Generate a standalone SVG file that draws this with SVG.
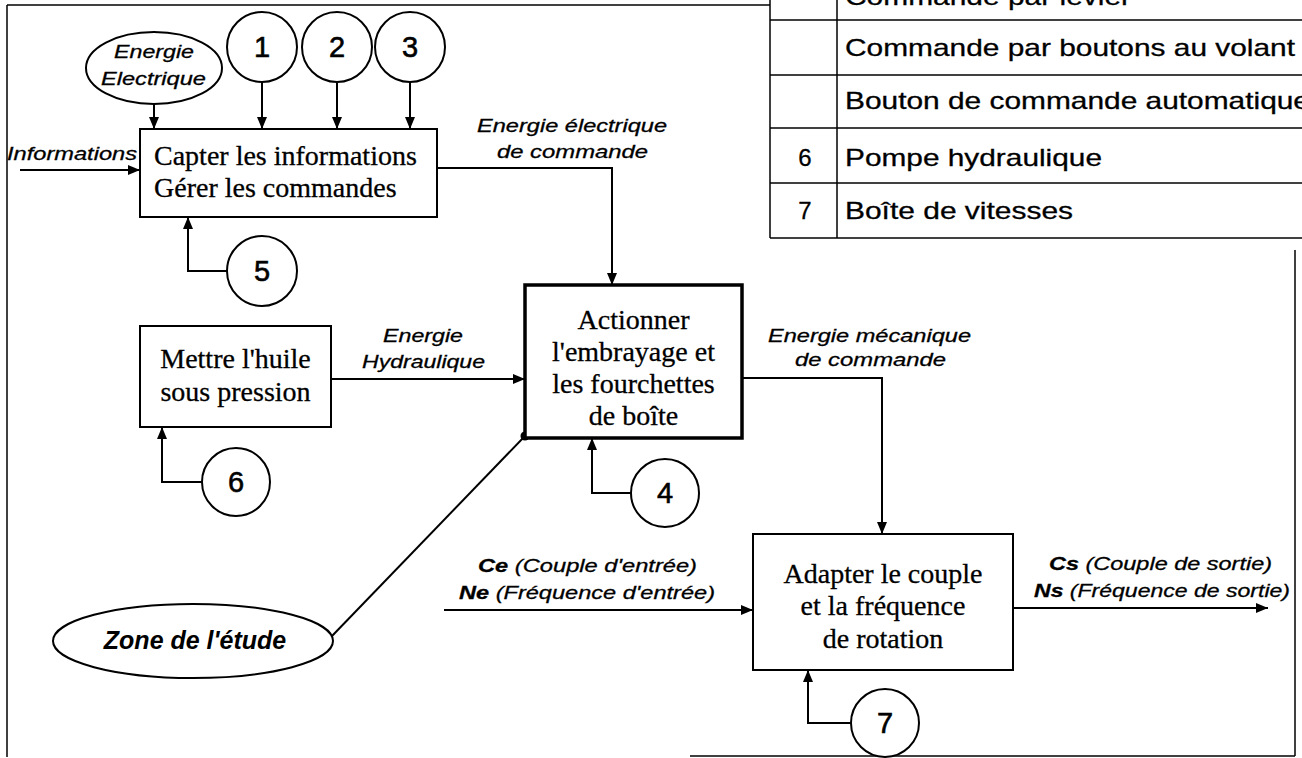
<svg xmlns="http://www.w3.org/2000/svg" width="1302" height="758" viewBox="0 0 1302 758">
<style>
.ln{fill:none;stroke:#000;stroke-width:2}
.bx{fill:#fff;stroke:#000;stroke-width:2}
.bxt{font-family:"Liberation Serif","Times New Roman",serif;font-size:28px;fill:#000;stroke:#000;stroke-width:0.3}
.lbl{font-family:"Liberation Sans",Arial,sans-serif;font-size:19px;font-style:italic;fill:#000;stroke:#000;stroke-width:0.3}
.num{font-family:"Liberation Sans",Arial,sans-serif;font-size:29px;fill:#000;stroke:#000;stroke-width:0.6;text-anchor:middle}
.tbl{font-family:"Liberation Sans",Arial,sans-serif;font-size:24px;fill:#000;stroke:#000;stroke-width:0.3}
.tl{stroke:#000;stroke-width:1.5}
</style>
<defs>
<marker id="ar" markerUnits="userSpaceOnUse" markerWidth="12" markerHeight="10" refX="12" refY="5" orient="auto">
<path d="M0,0 L12,5 L0,10 z" fill="#000"/>
</marker>
</defs>
<rect width="1302" height="758" fill="#fff"/>
<g id="frame" class="tl">
<line x1="7" y1="5" x2="770" y2="5"/>
<line x1="7" y1="5" x2="7" y2="757"/>
<line x1="1295" y1="250" x2="1295" y2="756"/>
<line x1="690" y1="756" x2="1295" y2="756"/>
</g>
<g id="table">
<rect x="770" y="0" width="532" height="238" fill="#fff"/>
<line class="tl" x1="770" y1="0" x2="770" y2="238"/>
<line class="tl" x1="837" y1="0" x2="837" y2="238"/>
<line class="tl" x1="770" y1="20" x2="1302" y2="20"/>
<line class="tl" x1="770" y1="75" x2="1302" y2="75"/>
<line class="tl" x1="770" y1="128" x2="1302" y2="128"/>
<line class="tl" x1="770" y1="183" x2="1302" y2="183"/>
<line class="tl" x1="770" y1="238" x2="1302" y2="238"/>
<text class="tbl" x="845" y="5" textLength="286" lengthAdjust="spacingAndGlyphs">Commande par levier</text>
<text class="tbl" x="845" y="56" textLength="450" lengthAdjust="spacingAndGlyphs">Commande par boutons au volant</text>
<text class="tbl" x="845" y="109" textLength="465" lengthAdjust="spacingAndGlyphs">Bouton de commande automatique</text>
<text class="tbl" x="805" y="166" text-anchor="middle">6</text>
<text class="tbl" x="845" y="166" textLength="257" lengthAdjust="spacingAndGlyphs">Pompe hydraulique</text>
<text class="tbl" x="805" y="219" text-anchor="middle">7</text>
<text class="tbl" x="845" y="219" textLength="228" lengthAdjust="spacingAndGlyphs">Boîte de vitesses</text>
</g>
<g id="connectors">
<line class="ln" x1="154" y1="104" x2="154" y2="129" marker-end="url(#ar)"/>
<line class="ln" x1="262" y1="82" x2="262" y2="129" marker-end="url(#ar)"/>
<line class="ln" x1="337" y1="82" x2="337" y2="129" marker-end="url(#ar)"/>
<line class="ln" x1="410" y1="82" x2="410" y2="129" marker-end="url(#ar)"/>
<line class="ln" x1="20" y1="170" x2="140" y2="170" marker-end="url(#ar)"/>
<polyline class="ln" points="227,271 188,271 188,217" marker-end="url(#ar)"/>
<polyline class="ln" points="437,168 612,168 612,285" marker-end="url(#ar)"/>
<line class="ln" x1="331" y1="379" x2="525" y2="379" marker-end="url(#ar)"/>
<polyline class="ln" points="202,482 162,482 162,427" marker-end="url(#ar)"/>
<polyline class="ln" points="631,493 592,493 592,438" marker-end="url(#ar)"/>
<polyline class="ln" points="742,378 882,378 882,534" marker-end="url(#ar)"/>
<line class="ln" x1="444" y1="610" x2="753" y2="610" marker-end="url(#ar)"/>
<line class="ln" x1="1013" y1="608" x2="1268" y2="608" marker-end="url(#ar)"/>
<polyline class="ln" points="851,723 808,723 808,670" marker-end="url(#ar)"/>
<line class="ln" x1="332" y1="636" x2="525" y2="436"/>
<circle cx="525" cy="436" r="4.5" fill="#000"/>
<text class="lbl" x="7" y="160" textLength="130" lengthAdjust="spacingAndGlyphs">Informations</text>
<text class="lbl" x="477" y="132" textLength="190" lengthAdjust="spacingAndGlyphs">Energie électrique</text>
<text class="lbl" x="497" y="158" textLength="151" lengthAdjust="spacingAndGlyphs">de commande</text>
<text class="lbl" x="383" y="342" textLength="80" lengthAdjust="spacingAndGlyphs">Energie</text>
<text class="lbl" x="362" y="368" textLength="123" lengthAdjust="spacingAndGlyphs">Hydraulique</text>
<text class="lbl" x="768" y="342" textLength="203" lengthAdjust="spacingAndGlyphs">Energie mécanique</text>
<text class="lbl" x="795" y="366" textLength="151" lengthAdjust="spacingAndGlyphs">de commande</text>
<text class="lbl" x="478" y="572" textLength="219" lengthAdjust="spacingAndGlyphs"><tspan font-weight="bold">Ce</tspan> (Couple d'entrée)</text>
<text class="lbl" x="459" y="599" textLength="256" lengthAdjust="spacingAndGlyphs"><tspan font-weight="bold">Ne</tspan> (Fréquence d'entrée)</text>
<text class="lbl" x="1049" y="570" textLength="223" lengthAdjust="spacingAndGlyphs"><tspan font-weight="bold">Cs</tspan> (Couple de sortie)</text>
<text class="lbl" x="1034" y="597" textLength="256" lengthAdjust="spacingAndGlyphs"><tspan font-weight="bold">Ns</tspan> (Fréquence de sortie)</text>
</g>
<g id="energie-electrique">
<ellipse class="bx" cx="154" cy="68" rx="68" ry="36"/>
<text class="lbl" x="114" y="58" textLength="80" lengthAdjust="spacingAndGlyphs">Energie</text>
<text class="lbl" x="101" y="85" textLength="105" lengthAdjust="spacingAndGlyphs">Electrique</text>
</g>
<g id="c1"><circle class="bx" cx="262" cy="47" r="35"/><text class="num" x="262" y="57">1</text></g>
<g id="c2"><circle class="bx" cx="337" cy="47" r="35"/><text class="num" x="337" y="57">2</text></g>
<g id="c3"><circle class="bx" cx="410" cy="47" r="35"/><text class="num" x="410" y="57">3</text></g>
<g id="capter">
<rect class="bx" x="140" y="129" width="297" height="88"/>
<text class="bxt" x="154" y="165">Capter les informations</text>
<text class="bxt" x="154" y="197">Gérer les commandes</text>
</g>
<g id="c5"><circle class="bx" cx="262" cy="271" r="35"/><text class="num" x="262" y="281">5</text></g>
<g id="mettre">
<rect class="bx" x="140" y="326" width="191" height="101"/>
<text class="bxt" x="235.5" y="368" text-anchor="middle">Mettre l'huile</text>
<text class="bxt" x="235.5" y="401" text-anchor="middle">sous pression</text>
</g>
<g id="c6"><circle class="bx" cx="236" cy="482" r="34"/><text class="num" x="236" y="492">6</text></g>
<g id="actionner">
<rect x="525" y="285" width="217" height="153" fill="#fff" stroke="#000" stroke-width="3.5"/>
<text class="bxt" x="633.5" y="329" text-anchor="middle">Actionner</text>
<text class="bxt" x="633.5" y="361" text-anchor="middle">l'embrayage et</text>
<text class="bxt" x="633.5" y="393" text-anchor="middle">les fourchettes</text>
<text class="bxt" x="633.5" y="425" text-anchor="middle">de boîte</text>
</g>
<g id="c4"><circle class="bx" cx="665" cy="493" r="34"/><text class="num" x="665" y="503">4</text></g>
<g id="zone">
<ellipse class="bx" cx="193" cy="641" rx="140" ry="37"/>
<text x="195" y="649" text-anchor="middle" font-family="Liberation Sans, Arial, sans-serif" font-size="25" font-weight="bold" font-style="italic">Zone de l'étude</text>
</g>
<g id="adapter">
<rect class="bx" x="753" y="534" width="260" height="136"/>
<text class="bxt" x="883" y="583" text-anchor="middle">Adapter le couple</text>
<text class="bxt" x="883" y="615" text-anchor="middle">et la fréquence</text>
<text class="bxt" x="883" y="648" text-anchor="middle">de rotation</text>
</g>
<g id="c7"><circle class="bx" cx="885" cy="723" r="34"/><text class="num" x="885" y="733">7</text></g>
</svg>
